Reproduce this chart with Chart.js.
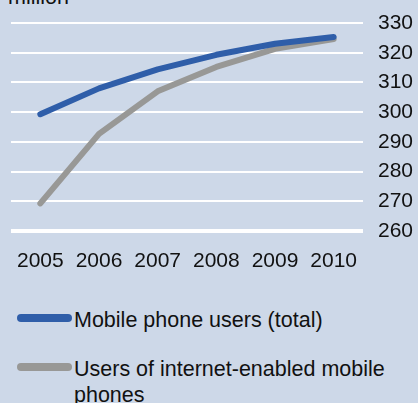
<!DOCTYPE html>
<html>
<head>
<meta charset="utf-8">
<script src="https://cdn.jsdelivr.net/npm/chart.js@4"></script>
<style>
  body { margin: 0; background: #cdd8e8; font-family: Arial, "Liberation Sans", sans-serif; }
  #wrap { position: relative; width: 418px; height: 403px; overflow: hidden; background: #cdd8e8; }
  #unit { position: absolute; left: 8px; top: -15px; font-size: 21.5px; color: #111; }
  #myGraph { position: absolute; left: 0; top: 0; }
  #legend { position: absolute; left: 17px; top: 305px; }
  .item { display: flex; align-items: flex-start; margin-bottom: 21px; }
  .swatch { width: 55px; height: 8px; border-radius: 4px; margin-top: 9px; flex: none; }
  .txt { font-size: 21.5px; line-height: 26px; color: #111; margin: 2px 0 0 2px; width: 330px; }
</style>
</head>
<body>
<div id="wrap">
  <div id="unit">million</div>
  <canvas id="myGraph" width="418" height="285"></canvas>
  <div id="legend"></div>
</div>
<script>
let years = ['2005', '2006', '2007', '2008', '2009', '2010'];
let mobileUsers = [299.3, 308, 314.4, 319.3, 323, 325.3];
let internetUsers = [269.3, 292.7, 307, 315.2, 321.3, 324.6];
let seriesNames = ['Mobile phone users (total)', 'Users of internet-enabled mobile phones'];
let seriesColors = ['#2f5ea9', '#989896'];
let yTicks = [260, 270, 280, 290, 300, 310, 320, 330];

function totalGraph() {
  const ctx = document.getElementById('myGraph').getContext('2d');
  const data = {
    labels: years,
    datasets: [{
      label: seriesNames[1],
      data: internetUsers,
      borderColor: seriesColors[1],
      borderWidth: 6,
      order: 2,
    },
    {
      label: seriesNames[0],
      data: mobileUsers,
      borderColor: seriesColors[0],
      borderWidth: 6,
      order: 1,
    }]
  };
  data.datasets.forEach(d => {
    d.fill = false;
    d.tension = 0;
    d.pointRadius = 0;
    d.borderCapStyle = 'round';
    d.borderJoinStyle = 'round';
  });

  const tickFont = { size: 21, family: 'Arial, "Liberation Sans"' };
  new Chart(ctx, {
    type: 'line',
    data: data,
    options: {
      responsive: false,
      animation: false,
      layout: { padding: { left: 11, top: 23, right: 0, bottom: 0 } },
      plugins: { legend: { display: false }, tooltip: { enabled: false } },
      scales: {
        x: {
          offset: true,
          grid: { display: false },
          border: { display: false },
          ticks: { color: '#111', padding: 10, font: tickFont, maxRotation: 0, autoSkip: false },
          afterFit: s => { s.height = 54; s.paddingLeft = 0; s.paddingRight = 0; }
        },
        y: {
          position: 'right',
          min: yTicks[0],
          max: yTicks[yTicks.length - 1],
          afterBuildTicks: axis => { axis.ticks = yTicks.map(v => ({ value: v })); },
          grid: {
            color: '#ffffff',
            lineWidth: c => (c.tick && c.tick.value === 260 ? 4 : 2),
            drawTicks: false
          },
          border: { display: false },
          ticks: { color: '#111', padding: 15, font: tickFont, autoSkip: false },
          afterFit: s => { s.width = 55; s.paddingTop = 0; s.paddingBottom = 0; }
        }
      }
    }
  });

  const legend = document.getElementById('legend');
  seriesNames.forEach((n, i) => {
    const item = document.createElement('div');
    item.className = 'item';
    item.innerHTML = '<div class="swatch" style="background:' + seriesColors[i] + '"></div><div class="txt">' + n + '</div>';
    legend.appendChild(item);
  });
}
totalGraph();
</script>
</body>
</html>
